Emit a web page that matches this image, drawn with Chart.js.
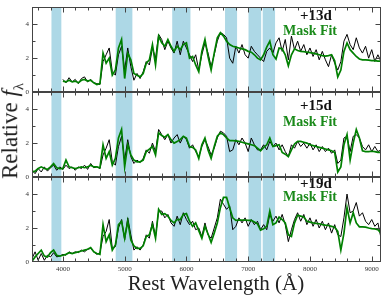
<!DOCTYPE html>
<html>
<head>
<meta charset="utf-8">
<script src="https://cdn.jsdelivr.net/npm/chart.js@4/dist/chart.umd.min.js"></script>
<style>
  body { margin: 0; background: #fff; }
  #wrap { position: relative; width: 390px; height: 300px; }
  #spectra { position: absolute; left: 0; top: 0; }
  .axis-title { position: absolute; font: 21px "Liberation Serif", serif; color: #222; white-space: nowrap; }
  #ytitle { left: 12px; top: 131px; font-size: 23px; transform: translate(-50%, -50%) rotate(-90deg); }
  #ytitle sub { font-size: 65%; }
  #xtitle { left: 216px; top: 283px; transform: translate(-50%, -50%); }
</style>
</head>
<body>
<div id="wrap">
  <canvas id="spectra" width="390" height="300"></canvas>
  <div id="ytitle" class="axis-title">Relative <i>f</i><sub>λ</sub></div>
  <div id="xtitle" class="axis-title">Rest Wavelength (Å)</div>
</div>
<script>
// rest wavelength grid (Å)
const WAVE = [
  3500, 3550, 3600, 3650, 3700, 3750, 3800, 3850, 3900, 3950,
  4000, 4050, 4100, 4150, 4200, 4250, 4300, 4350, 4400, 4450,
  4500, 4550, 4600, 4650, 4700, 4750, 4800, 4850, 4900, 4950,
  5000, 5050, 5100, 5150, 5200, 5250, 5300, 5350, 5400, 5450,
  5500, 5550, 5600, 5650, 5700, 5750, 5800, 5850, 5900, 5950,
  6000, 6050, 6100, 6150, 6200, 6250, 6300, 6350, 6400, 6450,
  6500, 6550, 6600, 6650, 6700, 6750, 6800, 6850, 6900, 6950,
  7000, 7050, 7100, 7150, 7200, 7250, 7300, 7350, 7400, 7450,
  7500, 7550, 7600, 7650, 7700, 7750, 7800, 7850, 7900, 7950,
  8000, 8050, 8100, 8150, 8200, 8250, 8300, 8350, 8400, 8450,
  8500, 8550, 8600, 8650, 8700, 8750, 8800, 8850, 8900, 8950,
  9000, 9050, 9100, 9150
];

// +13d
const obs13 = [
  null, null, null, null, null, null, null, null, null, null,
  0.75, 0.55, 0.85, 0.6, 0.75, 0.5, 0.8, 0.9, 0.6, 0.75,
  0.55, 0.5, 0.45, 1.8, 2.2, 2.6, 1.2, 1.0, 2.2, 2.7,
  1.3, 2.6, 1.5, 0.7, 1.1, 0.8, 1.2, 1.8, 1.6, 2.6,
  2.0, 3.4, 3.1, 2.5, 3.0, 2.6, 2.3, 3.0, 2.2, 3.0,
  2.6, 2.2, 1.8, 2.2, 1.3, 2.2, 2.9, 2.3, 1.5, 2.2,
  3.0, 3.5, 3.4, 3.2, 2.0, 1.7, 2.7, 2.3, 2.8, 2.2,
  2.0, 2.7, 2.4, 2.2, 2.0, 1.8, 2.4, 2.6, 2.3, 2.9,
  3.2, 2.4, 3.1, 1.9, 3.3, 2.5, 3.0, 2.4, 2.8, 2.2,
  2.6, 2.1, 2.5, 1.9, 2.4, 1.9, 1.5, 2.2, 1.7, 1.3,
  1.8, 3.0, 3.4, 2.8, 2.5, 3.2, 2.6, 2.3, 2.7, 2.0,
  2.5, 1.8, 2.2, 1.8
];
const fit13 = [
  null, null, null, null, null, null, null, null, null, null,
  0.65, 0.6, 0.7, 0.6, 0.65, 0.55, 0.7, 0.75, 0.65, 0.7,
  0.55, 0.45, 0.5, 2.3, 1.7, 2.0, 1.0, 1.3, 2.6, 3.1,
  0.8, 2.3, 1.9, 1.1, 1.0, 0.9, 1.1, 1.7, 1.9, 2.8,
  1.6, 3.3, 2.9, 2.7, 3.1, 2.7, 2.4, 2.7, 2.5, 2.8,
  2.9, 2.0, 2.1, 1.6, 1.2, 2.4, 3.1, 2.1, 1.3, 2.3,
  3.2, 3.5, 3.3, 3.0, 2.8, 2.7, 2.65, 2.6, 2.55, 2.5,
  2.4, 2.35, 2.2, 2.0, 1.9, 2.2, 2.65, 3.0, 2.2, 1.95,
  2.6, 2.55, 2.2, 1.55, 2.2, 2.55, 2.45, 2.4, 2.38, 2.35,
  2.33, 2.3, 2.25, 2.2, 2.15, 2.12, 2.15, 2.2, 1.85, 0.9,
  1.3, 2.4, 2.9, 2.5, 2.3, 2.1, 1.95, 1.9, 1.9, 1.88,
  1.85, 1.85, 1.83, 1.82
];

// +15d
const obs15 = [
  0.4, 0.2, 0.5, 0.3, 0.6, 0.35, 0.55, 0.7, 0.4, 0.6,
  0.45, 0.7, 0.5, 0.6, 0.4, 0.6, 0.5, 0.7, 0.45, 0.8,
  0.55, 0.6, 0.5, 1.3, 1.7, 2.2, 0.9, 0.7, 1.8, 2.4,
  1.0, 2.2, 1.2, 0.8, 1.0, 0.85, 1.1, 1.6, 1.4, 2.0,
  1.5, 2.8, 2.5, 2.2, 2.5, 2.0, 2.3, 2.5, 2.0, 2.4,
  2.2, 1.7, 1.9, 1.5, 1.2, 1.8, 2.2, 1.8, 1.3, 1.7,
  2.3, 2.7, 2.6, 2.4, 1.5, 1.6, 2.2, 1.9, 2.3, 2.0,
  1.5, 2.3, 1.9, 1.6, 1.6, 1.9, 1.6, 2.1, 1.8, 2.0,
  1.6, 1.9, 1.5, 1.2, 1.9, 1.7, 2.1, 1.8, 2.0, 1.7,
  2.0, 1.6, 1.9, 1.5, 1.8, 1.5, 1.7, 1.4, 1.6, 0.8,
  1.0, 2.3, 2.4, 1.5, 2.4, 2.5, 2.3, 1.8, 1.6, 1.9,
  1.5, 1.8, 1.5, 1.6
];
const fit15 = [
  0.3, 0.35, 0.5, 0.6, 0.5, 0.45, 0.6, 0.8, 0.55, 0.5,
  0.5, 1.0, 0.6, 0.55, 0.5, 0.55, 0.6, 0.55, 0.6, 0.7,
  0.6, 0.6, 0.55, 1.9, 1.1, 1.5, 0.7, 1.1, 2.3, 2.8,
  0.6, 1.9, 1.3, 1.0, 0.9, 0.9, 1.0, 1.5, 1.65, 1.8,
  1.3, 2.6, 2.45, 2.35, 2.5, 2.2, 2.0, 2.1, 2.2, 2.4,
  2.3, 1.8, 1.75, 1.6, 1.1, 1.9, 2.3, 1.6, 1.1, 1.8,
  2.4, 2.6, 2.5, 2.3, 2.15, 2.15, 2.13, 2.1, 2.05, 2.0,
  1.95, 1.9, 1.85, 1.7, 1.55, 1.75, 1.9, 2.3, 1.8, 1.85,
  1.9, 1.45, 1.35, 1.2, 1.6, 1.95, 2.1, 2.1, 2.05, 2.0,
  1.9, 1.85, 1.8, 1.75, 1.7, 1.65, 1.6, 1.55, 1.45, 0.3,
  0.6, 1.9, 2.5, 1.0, 2.0, 2.8, 2.3, 1.55, 1.5, 1.5,
  1.52, 1.5, 1.45, 1.45
];

// +19d
const obs19 = [
  0.2, 0.6, 0.1, 0.5, 0.1, 0.4, 0.3, 0.55, 0.3, 0.35,
  0.45, 0.4, 0.6, 0.5, 0.6, 0.55, 0.7, 0.6, 0.75, 0.8,
  0.6, 0.45, 0.55, 1.5, 1.8, 2.5, 0.8, 0.9, 2.0, 2.5,
  1.3, 2.6, 1.6, 0.7, 0.9, 0.7, 1.0, 1.6, 1.4, 2.4,
  1.5, 3.0, 3.0, 2.6, 2.8, 2.3, 2.1, 2.7, 2.2, 2.9,
  2.5, 2.2, 2.4, 1.9, 2.0, 1.5, 2.3, 1.6, 1.4, 2.0,
  2.6, 3.7, 3.4, 3.1, 3.3, 1.9, 2.1, 2.6, 2.3, 2.6,
  2.1, 2.5, 2.2, 2.4, 1.9, 2.2, 1.9, 2.8, 2.4, 2.7,
  2.3, 2.8, 2.2, 1.2, 1.9, 2.5, 2.9, 2.4, 2.8, 2.2,
  2.6, 2.1, 2.5, 2.0, 2.4, 1.9, 2.3, 1.7, 2.2, 1.6,
  1.5, 2.6, 4.0, 2.9, 3.0, 3.5, 2.7, 2.9, 2.4, 2.2,
  2.5, 2.1, 2.3, 1.4
];
const fit19 = [
  0.05, 0.3, 0.5, 0.7, 0.35, 0.3, 0.55, 0.7, 0.4, 0.35,
  0.4, 0.45, 0.55, 0.5, 0.55, 0.6, 0.65, 0.7, 0.75, 0.85,
  0.6, 0.5, 0.45, 2.2, 1.2, 1.6, 0.7, 1.0, 2.2, 2.4,
  1.4, 2.4, 1.3, 0.95, 0.8, 0.8, 0.95, 1.5, 1.6, 2.2,
  1.4, 3.1, 2.8, 2.85, 2.7, 2.45, 2.3, 2.5, 2.5, 2.8,
  2.85, 2.4, 2.1, 2.3, 1.85, 1.4, 2.1, 1.65, 1.15, 1.7,
  2.3, 3.2, 3.8, 3.8, 3.2, 2.6, 2.45, 2.47, 2.47, 2.47,
  2.45, 2.45, 2.35, 2.25, 1.88, 1.95, 2.1, 3.0, 2.2, 2.3,
  2.65, 2.5, 2.3, 1.6, 1.5, 2.3, 2.75, 2.7, 2.65, 2.4,
  2.35, 2.3, 2.27, 2.25, 2.2, 2.17, 2.15, 2.1, 2.05, 1.8,
  0.7, 1.7, 3.2, 2.3, 2.9, 2.3, 2.07, 2.07, 2.05, 2.0,
  1.97, 1.95, 1.9, 1.7
];

const epochs = ['+13d', '+15d', '+19d'];
const fitLabel = 'Mask Fit';
const panelIds = ['y13', 'y15', 'y19'];

// masked wavelength regions (Å)
const bandStarts = [3815, 4855, 5770, 6625, 7005, 7235];
const bandEnds = [3975, 5125, 6065, 6820, 7210, 7435];

const xTickLabels = [4000, 5000, 6000, 7000, 8000, 9000];
const xMinorTicks = [3600, 3800, 4000, 4200, 4400, 4600, 4800, 5000, 5200, 5400, 5600, 5800,
  6000, 6200, 6400, 6600, 6800, 7000, 7200, 7400, 7600, 7800, 8000, 8200, 8400, 8600, 8800, 9000];
const yTickLabels = [0, 2, 4];
const yMinorTicks = [1, 2, 3, 4];

const serif = '"Liberation Serif", serif';
const fitGreen = '#008000';

function series(values) {
    return WAVE.map((w, i) => ({ x: w, y: values[i] }));
}

const panelDecor = {
    id: 'panelDecor',
    beforeDatasetsDraw(chart) {
        const { ctx, chartArea, scales } = chart;
        ctx.save();
        ctx.fillStyle = '#add8e6';
        bandStarts.forEach((b, i) => {
            const x0 = scales.x.getPixelForValue(b);
            const x1 = scales.x.getPixelForValue(bandEnds[i]);
            ctx.fillRect(x0, chartArea.top, x1 - x0, chartArea.bottom - chartArea.top);
        });
        ctx.restore();
    },
    afterDatasetsDraw(chart) {
        const { ctx, chartArea, scales } = chart;
        const left = Math.round(chartArea.left) + 0.5;
        const right = Math.round(chartArea.right) - 0.5;
        ctx.save();
        ctx.strokeStyle = '#444';
        ctx.lineWidth = 1;
        panelIds.forEach((id, p) => {
            const ys = scales[id];
            const top = Math.round(ys.top) + 0.5;
            const bot = Math.round(ys.bottom) - 0.5;
            ctx.strokeRect(left, top, right - left, bot - top);
            ctx.beginPath();
            xMinorTicks.forEach(v => {
                const px = Math.round(scales.x.getPixelForValue(v)) + 0.5;
                const len = v % 1000 === 0 ? 5 : 3;
                ctx.moveTo(px, bot); ctx.lineTo(px, bot - len);
                ctx.moveTo(px, top); ctx.lineTo(px, top + len);
            });
            yMinorTicks.forEach(v => {
                const py = Math.round(ys.getPixelForValue(v)) + 0.5;
                const len = v % 2 === 0 ? 5 : 3;
                ctx.moveTo(left, py); ctx.lineTo(left + len, py);
                ctx.moveTo(right, py); ctx.lineTo(right - len, py);
            });
            ctx.stroke();

            ctx.textAlign = 'center';
            ctx.textBaseline = 'middle';
            ctx.fillStyle = '#111';
            ctx.font = 'bold 15px ' + serif;
            ctx.fillText(epochs[p], chartArea.right - 65, ys.top + [9, 14, 7][p]);
            ctx.fillStyle = '#1a8a1a';
            ctx.font = 'bold 14px ' + serif;
            ctx.fillText(fitLabel, chartArea.right - 71, ys.top + [24, 30, 20][p]);
        });
        ctx.restore();
    }
};

function panelAxis() {
    return {
        type: 'linear',
        position: 'left',
        stack: 'panels',
        stackWeight: 1,
        min: 0,
        max: 5,
        grid: { display: false, drawTicks: false },
        border: { display: false },
        afterBuildTicks: s => { s.ticks = yTickLabels.map(v => ({ value: v })); },
        afterFit: s => { s.width = 32; },
        ticks: { padding: 3, font: { family: serif, size: 7 }, color: '#333', callback: v => String(v) }
    };
}

const datasets = [];
panelIds.forEach((id, p) => {
    const fit = [fit13, fit15, fit19][p];
    const obs = [obs13, obs15, obs19][p];
    datasets.push({ label: 'fit ' + epochs[p], data: series(fit), yAxisID: id, borderColor: fitGreen, borderWidth: 1.7, order: 0 });
    datasets.push({ label: 'obs ' + epochs[p], data: series(obs), yAxisID: id, borderColor: '#000', borderWidth: 1, order: 1 });
});

new Chart(document.getElementById('spectra'), {
    type: 'line',
    data: { datasets },
    options: {
        responsive: false,
        animation: false,
        devicePixelRatio: 1,
        layout: { padding: { top: 6, right: 9, left: 0, bottom: 0 } },
        plugins: { legend: { display: false }, tooltip: { enabled: false } },
        elements: { point: { radius: 0 }, line: { tension: 0 } },
        scales: {
            x: {
                type: 'linear',
                min: 3500,
                max: 9150,
                grid: { display: false, drawTicks: false },
                border: { display: false },
                afterBuildTicks: s => { s.ticks = xTickLabels.map(v => ({ value: v })); },
                afterFit: s => { s.height = 38; },
                ticks: { padding: 3, autoSkip: false, maxRotation: 0, font: { family: serif, size: 7 }, color: '#333', callback: v => String(v) }
            },
            // stacked panels are laid out bottom-up
            y19: panelAxis(),
            y15: panelAxis(),
            y13: panelAxis()
        }
    },
    plugins: [panelDecor]
});
</script>
</body>
</html>
